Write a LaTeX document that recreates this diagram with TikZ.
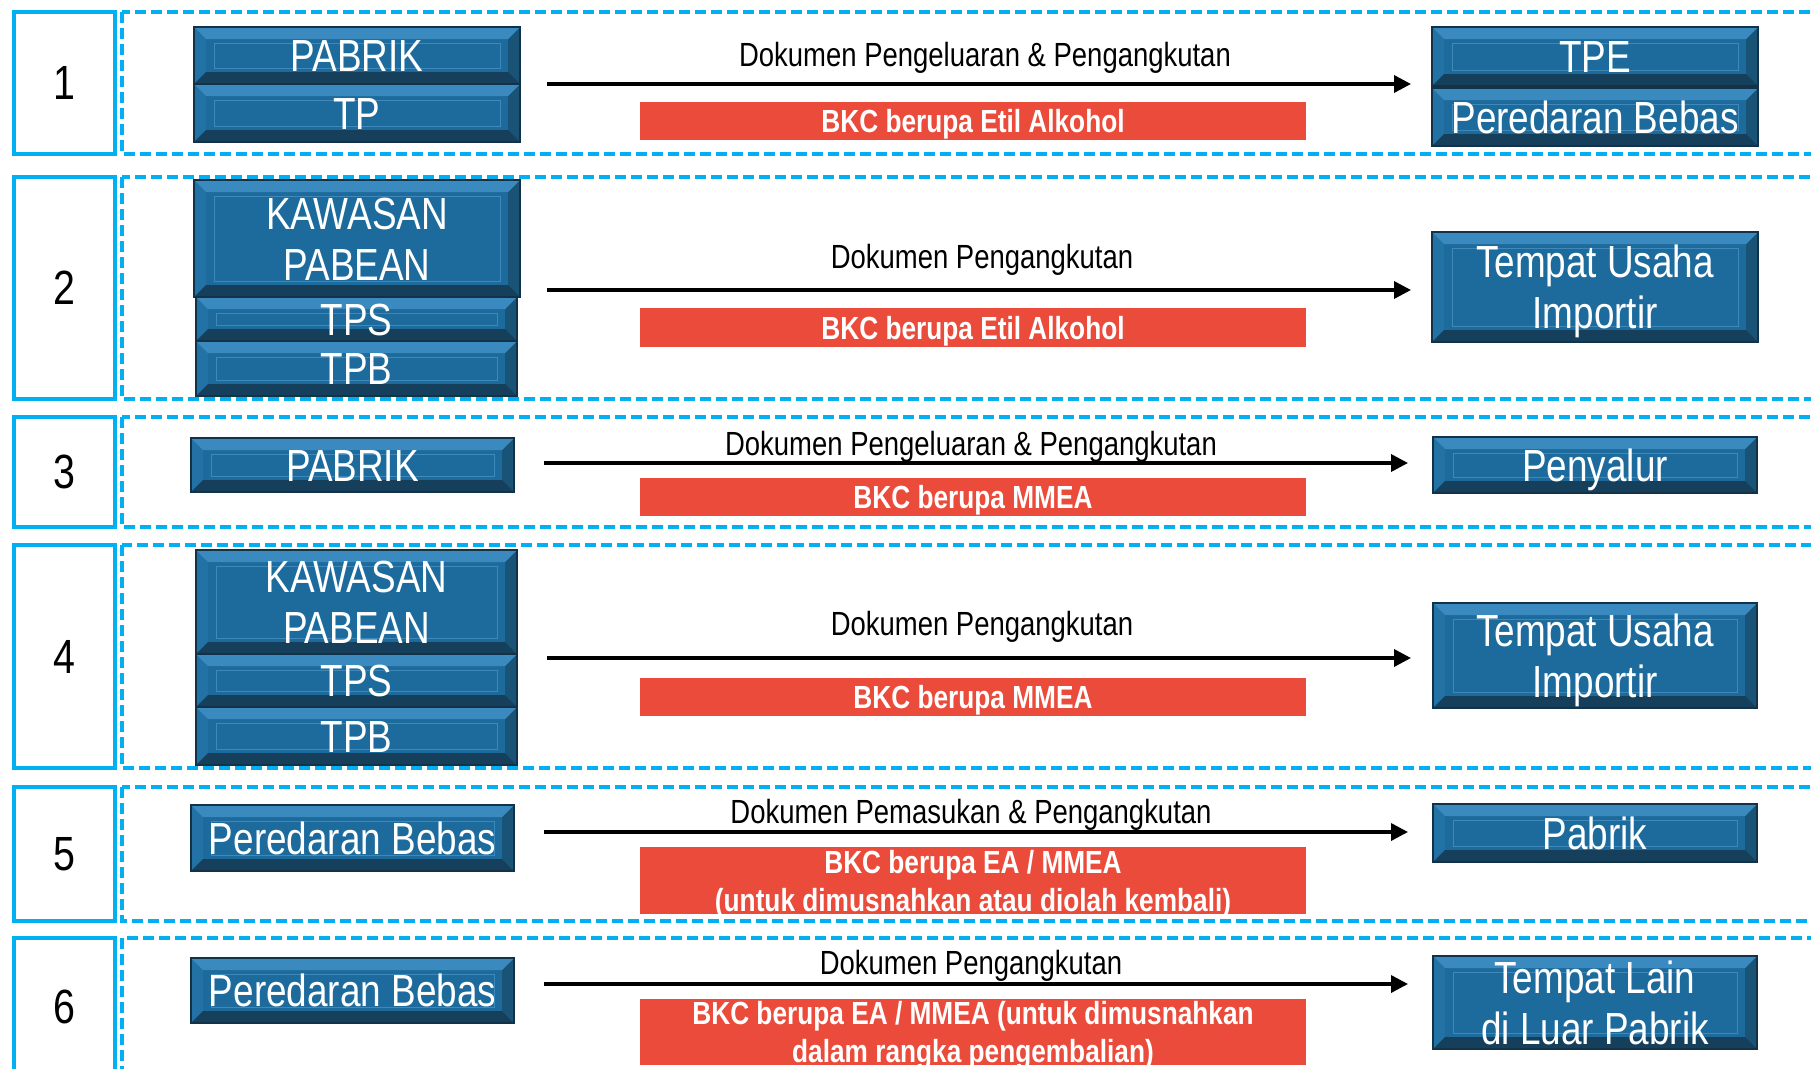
\documentclass[tikz,border=0pt]{standalone}
\usepackage{fontspec}
\setmainfont{Liberation Sans}[FakeStretch=0.82]
\usetikzlibrary{arrows.meta}
\definecolor{cyanb}{HTML}{00B0F0}
\definecolor{boxblue}{HTML}{1D6B9C}
\definecolor{boxedge}{HTML}{12324A}
\definecolor{bevtop}{HTML}{3A8AC0}
\definecolor{bevbot}{HTML}{163F5C}
\definecolor{bevleft}{HTML}{2272A5}
\definecolor{bevright}{HTML}{195477}
\definecolor{innerln}{HTML}{3E88BA}
\definecolor{redfill}{HTML}{EA4B3A}
\newcommand\bevsz{12pt}
\newcommand\bevelpic{%
  \coordinate (bNW) at (path picture bounding box.north west);
  \coordinate (bNE) at (path picture bounding box.north east);
  \coordinate (bSW) at (path picture bounding box.south west);
  \coordinate (bSE) at (path picture bounding box.south east);
  \fill[bevleft] (bNW) -- ([xshift=\bevsz,yshift=-\bevsz]bNW) -- ([xshift=\bevsz,yshift=\bevsz]bSW) -- (bSW) -- cycle;
  \fill[bevright] (bNE) -- ([xshift=-\bevsz,yshift=-\bevsz]bNE) -- ([xshift=-\bevsz,yshift=\bevsz]bSE) -- (bSE) -- cycle;
  \fill[bevtop] (bNW) -- (bNE) -- ([xshift=-\bevsz,yshift=-\bevsz]bNE) -- ([xshift=\bevsz,yshift=-\bevsz]bNW) -- cycle;
  \fill[bevbot] (bSW) -- (bSE) -- ([xshift=-\bevsz,yshift=\bevsz]bSE) -- ([xshift=\bevsz,yshift=\bevsz]bSW) -- cycle;
  \draw[innerln, line width=1pt] ([xshift=20pt,yshift=-16pt]bNW) rectangle ([xshift=-20pt,yshift=16pt]bSE);
}
\tikzset{
  numbox/.style={draw=cyanb, line width=4pt, inner sep=0pt, font=\fontsize{48}{50}\selectfont},
  rowframe/.style={draw=cyanb, line width=3.5pt, dash pattern=on 11pt off 5pt},
  bluebox/.style={draw=boxedge, line width=1.5pt, fill=boxblue, text=white, align=center,
    inner sep=0pt, font=\fontsize{45}{51}\selectfont, path picture={\bevelpic},
    text height=32pt, text depth=0pt},
  bluetwo/.style={bluebox, text height=83pt, text depth=0pt},
  redbox/.style={fill=redfill, text=white, align=center, inner sep=0pt,
    font=\bfseries\fontsize{32}{38}\selectfont, text height=23pt, text depth=0pt},
  redtwo/.style={redbox, text height=61pt, text depth=0pt},
  doclabel/.style={anchor=base, inner sep=0pt, font=\fontsize{33.5}{40}\selectfont},
  flow/.style={line width=3.5pt, -{Triangle[length=17pt,width=17pt]}},
}
\newcommand\bluenode[7][bluebox]{%
  \node[#1, minimum width={#5pt-#3pt}, minimum height={#6pt-#4pt}] (#2) at ({(#3+#5)/2},{(#4+#6)/2}) {#7};}
\newcommand\rednode[7][redbox]{%
  \node[#1, minimum width={#5pt-#3pt}, minimum height={#6pt-#4pt}] (#2) at ({(#3+#5)/2},{(#4+#6)/2}) {#7};}
\newcommand\numnode[4]{%
  \node[numbox, minimum width=101pt, minimum height={#4pt-#3pt}] (#1) at (64,{(#3+#4)/2}) {#2};}
\begin{document}
\begin{tikzpicture}[x=1pt,y=-1pt]
\useasboundingbox[fill=white] (0,0) rectangle (1811,1068);
% row frames
\draw[rowframe] (122,12) rectangle (1840,154);
\draw[rowframe] (122,177) rectangle (1840,399);
\draw[rowframe] (122,417) rectangle (1840,527);
\draw[rowframe] (122,545) rectangle (1840,768);
\draw[rowframe] (122,787) rectangle (1840,921);
\draw[rowframe] (122,938) rectangle (1840,1100);
% number boxes
\numnode{n1}{1}{12}{154}
\numnode{n2}{2}{177}{399}
\numnode{n3}{3}{417}{527}
\numnode{n4}{4}{545}{768}
\numnode{n5}{5}{787}{921}
\numnode{n6}{6}{938}{1075}
% row 1
\bluenode{l1a}{194}{27}{520}{84}{PABRIK}
\bluenode{l1b}{194}{84}{520}{142}{TP}
\bluenode{r1a}{1432}{27}{1758}{86}{TPE}
\bluenode{r1b}{1432}{88}{1758}{146}{Peredaran Bebas}
\node[doclabel] (d1) at (985,66) {Dokumen Pengeluaran \& Pengangkutan};
\rednode{k1}{640}{102}{1306}{140}{BKC berupa Etil Alkohol}
\coordinate (s1) at (547,84); \coordinate (e1) at (1411,84);
\draw[flow] (s1) -- (e1);
% row 2
\bluenode[bluetwo]{l2a}{194}{180}{520}{297}{KAWASAN\\PABEAN}
\bluenode{l2b}{196}{297}{517}{341}{TPS}
\bluenode{l2c}{196}{341}{517}{396}{TPB}
\bluenode[bluetwo]{r2}{1432}{232}{1758}{342}{Tempat Usaha\\Importir}
\node[doclabel] (d2) at (982,268) {Dokumen Pengangkutan};
\rednode{k2}{640}{308}{1306}{347}{BKC berupa Etil Alkohol}
\coordinate (s2) at (547,290); \coordinate (e2) at (1411,290);
\draw[flow] (s2) -- (e2);
% row 3
\bluenode{l3}{191}{438}{514}{492}{PABRIK}
\bluenode{r3}{1433}{437}{1757}{493}{Penyalur}
\node[doclabel] (d3) at (971,455) {Dokumen Pengeluaran \& Pengangkutan};
\rednode{k3}{640}{478}{1306}{516}{BKC berupa MMEA}
\coordinate (s3) at (544,463); \coordinate (e3) at (1408,463);
\draw[flow] (s3) -- (e3);
% row 4
\bluenode[bluetwo]{l4a}{196}{550}{517}{654}{KAWASAN\\PABEAN}
\bluenode{l4b}{196}{654}{517}{707}{TPS}
\bluenode{l4c}{196}{707}{517}{765}{TPB}
\bluenode[bluetwo]{r4}{1433}{603}{1757}{708}{Tempat Usaha\\Importir}
\node[doclabel] (d4) at (982,635) {Dokumen Pengangkutan};
\rednode{k4}{640}{678}{1306}{716}{BKC berupa MMEA}
\coordinate (s4) at (547,658); \coordinate (e4) at (1411,658);
\draw[flow] (s4) -- (e4);
% row 5
\bluenode{l5}{191}{805}{514}{871}{Peredaran Bebas}
\bluenode{r5}{1433}{804}{1757}{862}{Pabrik}
\node[doclabel] (d5) at (971,823) {Dokumen Pemasukan \& Pengangkutan};
\rednode[redtwo]{k5}{640}{847}{1306}{914}{BKC berupa EA / MMEA\\(untuk dimusnahkan atau diolah kembali)}
\coordinate (s5) at (544,832); \coordinate (e5) at (1408,832);
\draw[flow] (s5) -- (e5);
% row 6
\bluenode{l6}{191}{958}{514}{1023}{Peredaran Bebas}
\bluenode[bluetwo]{r6}{1433}{956}{1757}{1049}{Tempat Lain\\di Luar Pabrik}
\node[doclabel] (d6) at (971,974) {Dokumen Pengangkutan};
\rednode[redtwo]{k6}{640}{999}{1306}{1065}{BKC berupa EA / MMEA (untuk dimusnahkan\\dalam rangka pengembalian)}
\coordinate (s6) at (544,984); \coordinate (e6) at (1408,984);
\draw[flow] (s6) -- (e6);
\end{tikzpicture}
\end{document}
